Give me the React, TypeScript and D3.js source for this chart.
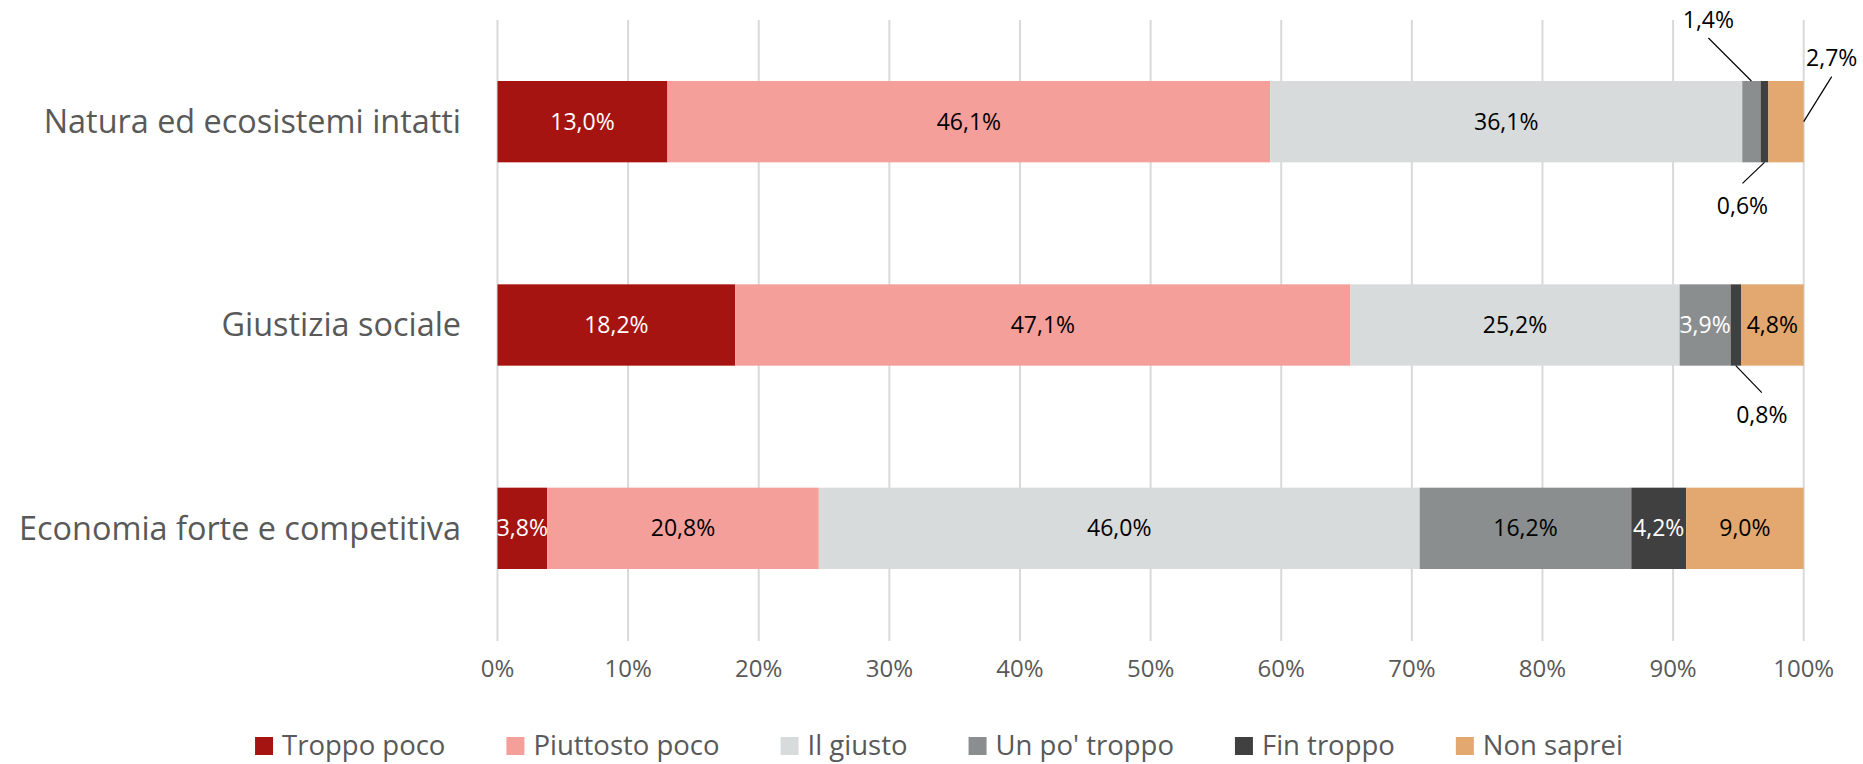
import React, { useRef, useEffect } from "react";
import * as d3 from "d3";

// categories (top to bottom) and the six answer series, in stacking order
const categories = [
  "Natura ed ecosistemi intatti",
  "Giustizia sociale",
  "Economia forte e competitiva",
];
const seriesNames = [
  "Troppo poco",
  "Piuttosto poco",
  "Il giusto",
  "Un po' troppo",
  "Fin troppo",
  "Non saprei",
];
const troppoPoco = [13.0, 18.2, 3.8];
const piuttostoPoco = [46.1, 47.1, 20.8];
const ilGiusto = [36.1, 25.2, 46.0];
const unPoTroppo = [1.4, 3.9, 16.2];
const finTroppo = [0.6, 0.8, 4.2];
const nonSaprei = [2.7, 4.8, 9.0];
const xTicks = [0, 10, 20, 30, 40, 50, 60, 70, 80, 90, 100];

const seriesValues = [troppoPoco, piuttostoPoco, ilGiusto, unPoTroppo, finTroppo, nonSaprei];
const colors = ["#A51410", "#F59F9A", "#D7DBDC", "#8B8E8F", "#404040", "#E2A86F"];

// labels drawn white on their segment
const whiteLabels = [
  ["Natura ed ecosistemi intatti", "Troppo poco"],
  ["Giustizia sociale", "Troppo poco"],
  ["Economia forte e competitiva", "Troppo poco"],
  ["Giustizia sociale", "Un po' troppo"],
  ["Economia forte e competitiva", "Fin troppo"],
];

// small segments labelled outside the bar with a leader line
const callouts = [
  { cat: "Natura ed ecosistemi intatti", series: "Un po' troppo", anchor: "top", label: [-43, -61], line: [-43, -43] },
  { cat: "Natura ed ecosistemi intatti", series: "Fin troppo", anchor: "bottom", label: [-22, 44], line: [-22, 21] },
  { cat: "Natura ed ecosistemi intatti", series: "Non saprei", anchor: "right", label: [28, -64], line: [28, -45] },
  { cat: "Giustizia sociale", series: "Fin troppo", anchor: "bottom", label: [26, 49], line: [26, 27] },
];

const W = 1863;
const H = 764;
const FONT = "'Open Sans', 'Noto Sans', sans-serif";
const fmt = (v: number) => d3.format(".1f")(v).replace(".", ",") + "%";

const App = () => {
  const svgRef = useRef<SVGSVGElement>(null);

  useEffect(() => {
    document.body.style.margin = "0";
    const svg = d3.select(svgRef.current);
    svg.selectAll("*").remove();

    const rows = categories.map((c, i) => {
      const r: any = { category: c };
      seriesNames.forEach((s, j) => (r[s] = seriesValues[j][i]));
      return r;
    });
    const stacked = d3.stack<any>().keys(seriesNames).offset(d3.stackOffsetExpand)(rows);

    const x = d3.scaleLinear().domain([0, 1]).range([497.5, 1803.7]);
    const y = d3
      .scaleBand()
      .domain(categories)
      .range([20, 630])
      .paddingInner(0.6)
      .paddingOuter(0.3);

    // gridlines
    svg
      .append("g")
      .selectAll("line")
      .data(xTicks)
      .enter()
      .append("line")
      .attr("x1", (d) => x(d / 100))
      .attr("x2", (d) => x(d / 100))
      .attr("y1", 20)
      .attr("y2", 641)
      .attr("stroke", "#D9D9D9")
      .attr("stroke-width", 2);

    // tick labels
    svg
      .append("g")
      .selectAll("text")
      .data(xTicks)
      .enter()
      .append("text")
      .attr("x", (d) => x(d / 100))
      .attr("y", 677)
      .attr("text-anchor", "middle")
      .attr("font-family", FONT)
      .attr("font-size", 24)
      .attr("fill", "#595959")
      .text((d) => d + "%");

    // category labels
    svg
      .append("g")
      .selectAll("text")
      .data(categories)
      .enter()
      .append("text")
      .attr("x", 461)
      .attr("y", (d) => y(d)! + y.bandwidth() / 2)
      .attr("dy", "0.35em")
      .attr("text-anchor", "end")
      .attr("font-family", FONT)
      .attr("font-size", 32.4)
      .attr("fill", "#595959")
      .text((d) => d);

    // bars
    const layers = svg
      .append("g")
      .selectAll("g")
      .data(stacked)
      .enter()
      .append("g")
      .attr("fill", (d, i) => colors[i]);

    layers
      .selectAll("rect")
      .data((d) => d.map((p) => ({ p, key: d.key })))
      .enter()
      .append("rect")
      .attr("x", (d) => x(d.p[0]))
      .attr("y", (d) => y(d.p.data.category)!)
      .attr("width", (d) => x(d.p[1]) - x(d.p[0]))
      .attr("height", y.bandwidth());

    // data labels
    const isCallout = (c: string, s: string) => callouts.some((o) => o.cat === c && o.series === s);
    const isWhite = (c: string, s: string) => whiteLabels.some((o) => o[0] === c && o[1] === s);

    const labels: any[] = [];
    stacked.forEach((layer) =>
      layer.forEach((p) => labels.push({ p, key: layer.key, cat: p.data.category }))
    );

    svg
      .append("g")
      .selectAll("text")
      .data(labels.filter((d) => !isCallout(d.cat, d.key)))
      .enter()
      .append("text")
      .attr("x", (d) => (x(d.p[0]) + x(d.p[1])) / 2)
      .attr("y", (d) => y(d.cat)! + y.bandwidth() / 2)
      .attr("dy", "0.35em")
      .attr("text-anchor", "middle")
      .attr("font-family", FONT)
      .attr("font-size", 23)
      .attr("fill", (d) => (isWhite(d.cat, d.key) ? "#FFFFFF" : "#000000"))
      .text((d) => fmt(d.p.data[d.key]));

    // callout labels with leader lines
    const co = svg.append("g");
    callouts.forEach((c) => {
      const d = labels.find((l) => l.cat === c.cat && l.key === c.series);
      const top = y(c.cat)!;
      const mid = top + y.bandwidth() / 2;
      let ax = (x(d.p[0]) + x(d.p[1])) / 2;
      let ay = mid;
      if (c.anchor === "top") ay = top;
      if (c.anchor === "bottom") ay = top + y.bandwidth();
      if (c.anchor === "right") ax = x(d.p[1]);
      co.append("line")
        .attr("x1", ax)
        .attr("y1", ay)
        .attr("x2", ax + c.line[0])
        .attr("y2", ay + c.line[1])
        .attr("stroke", "#000")
        .attr("stroke-width", 1.2);
      co.append("text")
        .attr("x", ax + c.label[0])
        .attr("y", ay + c.label[1])
        .attr("dy", "0.35em")
        .attr("text-anchor", "middle")
        .attr("font-family", FONT)
        .attr("font-size", 23)
        .attr("fill", "#000")
        .text(fmt(d.p.data[c.series]));
    });

    // legend, centred under the chart
    const legend = svg.append("g");
    const items = legend
      .selectAll("g")
      .data(seriesNames)
      .enter()
      .append("g");
    items
      .append("rect")
      .attr("x", 0)
      .attr("y", 737)
      .attr("width", 18)
      .attr("height", 18)
      .attr("fill", (d, i) => colors[i]);
    items
      .append("text")
      .attr("x", 27)
      .attr("y", 755)
      .attr("font-family", FONT)
      .attr("font-size", 27.5)
      .attr("fill", "#595959")
      .text((d) => d);

    let cursor = 0;
    const offsets: number[] = [];
    items.each(function () {
      const t = d3.select(this).select("text").node() as SVGTextElement;
      offsets.push(cursor);
      cursor += 27 + t.getComputedTextLength() + 61;
    });
    const total = cursor - 61;
    const start = 939 - total / 2;
    items.attr("transform", (d, i) => `translate(${start + offsets[i]},0)`);
  }, []);

  return <svg ref={svgRef} width={W} height={H} style={{ display: "block", background: "#fff" }} />;
};

export default App;
